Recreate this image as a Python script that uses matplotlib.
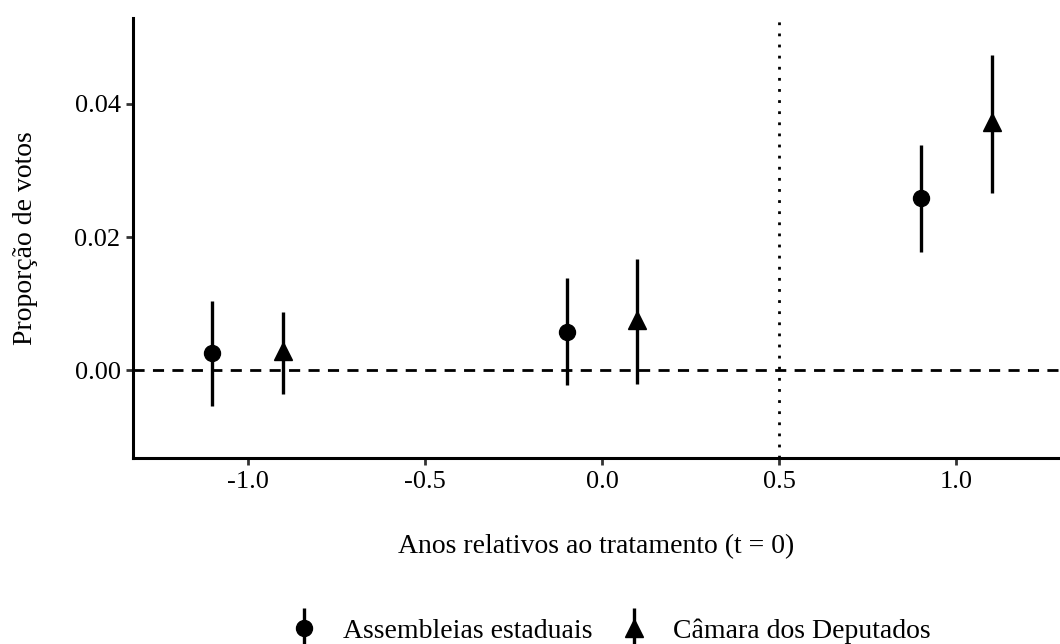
import matplotlib.pyplot as plt
from matplotlib.legend_handler import HandlerErrorbar
import numpy as np

plt.rcParams['font.family'] = ['Liberation Serif', 'DejaVu Serif']

# Estimates
anos = [-1, 0, 1]
assembleias = [0.0026, 0.0058, 0.0259]
assembleias_lo = [-0.0054, -0.0023, 0.0177]
assembleias_hi = [0.0104, 0.0138, 0.0338]
camara = [0.0029, 0.0075, 0.0373]
camara_lo = [-0.0036, -0.0021, 0.0266]
camara_hi = [0.0087, 0.0167, 0.0474]

fig = plt.figure(figsize=(10.6, 6.44), dpi=100)
ax = fig.add_axes([133 / 1060, 1 - 458 / 644, 927 / 1060, 440 / 644])

dodge = 0.1
x = np.array(anos, dtype=float)

a = np.array(assembleias)
c = np.array(camara)
ax.errorbar(x - dodge, a, yerr=[a - np.array(assembleias_lo), np.array(assembleias_hi) - a],
            fmt='o', color='black', ms=11.5, elinewidth=2.4, capsize=0,
            label='Assembleias estaduais', zorder=3)
ax.errorbar(x + dodge, c, yerr=[c - np.array(camara_lo), np.array(camara_hi) - c],
            fmt='^', color='black', ms=13, elinewidth=2.4, capsize=0,
            label='Câmara dos Deputados', zorder=3)

ax.axhline(0, color='black', linestyle=(0, (4, 3)), linewidth=2)
ax.axvline(0.5, color='black', linestyle=(0, (1, 3)), linewidth=2)

ax.set_xlim(-1.323, 1.292)
ax.set_ylim(-0.0132, 0.0529)
ax.set_xticks([-1.0, -0.5, 0.0, 0.5, 1.0])
ax.set_xticklabels(['-1.0', '-0.5', '0.0', '0.5', '1.0'])
ax.set_yticks([0.0, 0.02, 0.04])
ax.set_yticklabels(['0.00', '0.02', '0.04'])

for side in ['top', 'right']:
    ax.spines[side].set_visible(False)
for side in ['left', 'bottom']:
    ax.spines[side].set_linewidth(2.2)
ax.tick_params(axis='both', width=2, length=5, labelsize=19, color='#333333', pad=4)

ax.set_xlabel('Anos relativos ao tratamento (t = 0)', fontsize=20, labelpad=30)
ax.set_ylabel('Proporção de votos', fontsize=20, labelpad=26)

fig.legend(loc='center', bbox_to_anchor=(610 / 1060, 13 / 644), ncol=2, frameon=False,
           fontsize=20, handlelength=1.0, handletextpad=0.9, columnspacing=1.0,
           handler_map={type(ax.containers[0]): HandlerErrorbar(yerr_size=0.72)})

fig.savefig('out.png', dpi=100)
